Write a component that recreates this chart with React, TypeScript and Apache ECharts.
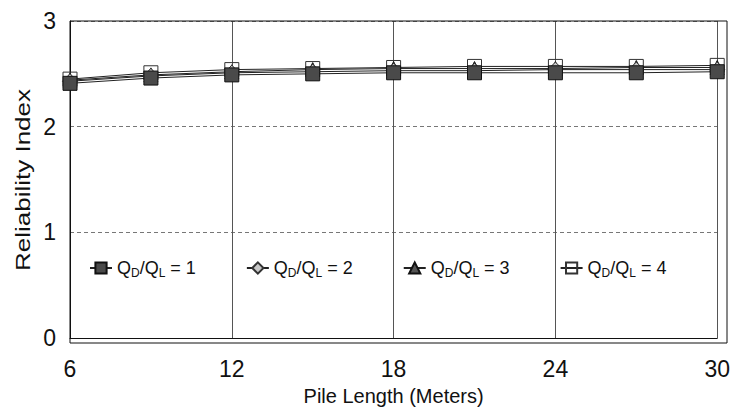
import React, { useEffect, useRef } from "react";
import * as echarts from "echarts";

const pileLength = [6, 9, 12, 15, 18, 21, 24, 27, 30];
const ratio1 = [2.41, 2.46, 2.49, 2.5, 2.51, 2.51, 2.51, 2.51, 2.52];
const ratio2 = [2.43, 2.48, 2.51, 2.52, 2.53, 2.53, 2.54, 2.54, 2.54];
const ratio3 = [2.44, 2.49, 2.52, 2.54, 2.55, 2.55, 2.55, 2.56, 2.56];
const ratio4 = [2.45, 2.51, 2.54, 2.55, 2.56, 2.57, 2.57, 2.57, 2.58];
const seriesNames = ["1", "2", "3", "4"];
const yAxisTitle = "Reliability Index";
const xAxisTitle = "Pile Length (Meters)";

const FONT = "Liberation Sans";

export default function App() {
  const ref = useRef<HTMLDivElement>(null);
  useEffect(() => {
    if (!ref.current) return;
    const chart = echarts.init(ref.current, null, { renderer: "svg" });
    const mk = (vals: number[]) => pileLength.map((x, i) => [x, vals[i]]);
    const styles = [
      { symbol: "rect", color: "#4a4a4a", border: "#111" },
      { symbol: "diamond", color: "#c8c8c8", border: "#333" },
      { symbol: "triangle", color: "#555", border: "#111" },
      { symbol: "rect", color: "rgba(255,255,255,0)", border: "#333" },
    ];
    const data = [ratio1, ratio2, ratio3, ratio4];
    const series = data.map((vals, i) => ({
      name: seriesNames[i],
      type: "line",
      data: mk(vals),
      symbol: styles[i].symbol,
      symbolSize: i === 1 ? 15 : 14,
      showSymbol: true,
      lineStyle: { color: "#222", width: 1 },
      itemStyle: { color: styles[i].color, borderColor: styles[i].border, borderWidth: 1 },
      z: 10 - i,
    }));
    chart.setOption({
      animation: false,
      backgroundColor: "#fff",
      grid: { left: 70, right: 6, top: 21, bottom: 68 },
      legend: {
        left: 84,
        top: 254,
        itemGap: 50,
        itemWidth: 22,
        itemHeight: 14,
        data: seriesNames,
        formatter: (n: string) => `Q{sub|D}/Q{sub|L} = ${n}`,
        textStyle: {
          fontFamily: FONT,
          fontSize: 18,
          color: "#111",
          rich: {
            sub: { fontSize: 12, verticalAlign: "bottom", padding: [9, 0, 0, 0], fontFamily: FONT, color: "#111" },
          },
        },
      },
      xAxis: {
        type: "value",
        min: 6,
        max: 30,
        interval: 6,
        name: xAxisTitle,
        nameLocation: "middle",
        nameGap: 48,
        nameTextStyle: { fontFamily: FONT, fontSize: 20, color: "#111" },
        axisLine: { lineStyle: { color: "#111", width: 1 } },
        axisTick: { show: false },
        axisLabel: { fontFamily: FONT, fontSize: 23, color: "#111", margin: 19 },
        splitLine: { show: true, lineStyle: { color: "#555", width: 1 } },
      },
      yAxis: {
        type: "value",
        min: 0,
        max: 3,
        interval: 1,
        axisLine: { show: true, lineStyle: { color: "#111", width: 1 } },
        axisTick: { show: false },
        axisLabel: { fontFamily: FONT, fontSize: 23, color: "#111", margin: 14 },
        splitLine: { show: true, lineStyle: { color: "#777", width: 1, type: [4, 3] } },
      },
      graphic: [
        {
          type: "rect",
          shape: { x: 70, y: 21, width: 657, height: 322 },
          style: { fill: "none", stroke: "#111", lineWidth: 1 },
          z: 1,
          silent: true,
        },
        {
          type: "text",
          x: 23,
          y: 180,
          rotation: Math.PI / 2,
          scaleX: 1.3,
          style: {
            text: yAxisTitle,
            fontFamily: FONT,
            fontSize: 20,
            fill: "#111",
            align: "center",
            verticalAlign: "middle",
          },
          silent: true,
        },
      ],
      series,
    });
    return () => chart.dispose();
  }, []);
  return (
    <div
      ref={ref}
      style={{ position: "absolute", left: 0, top: 0, width: 733, height: 411 }}
    />
  );
}
